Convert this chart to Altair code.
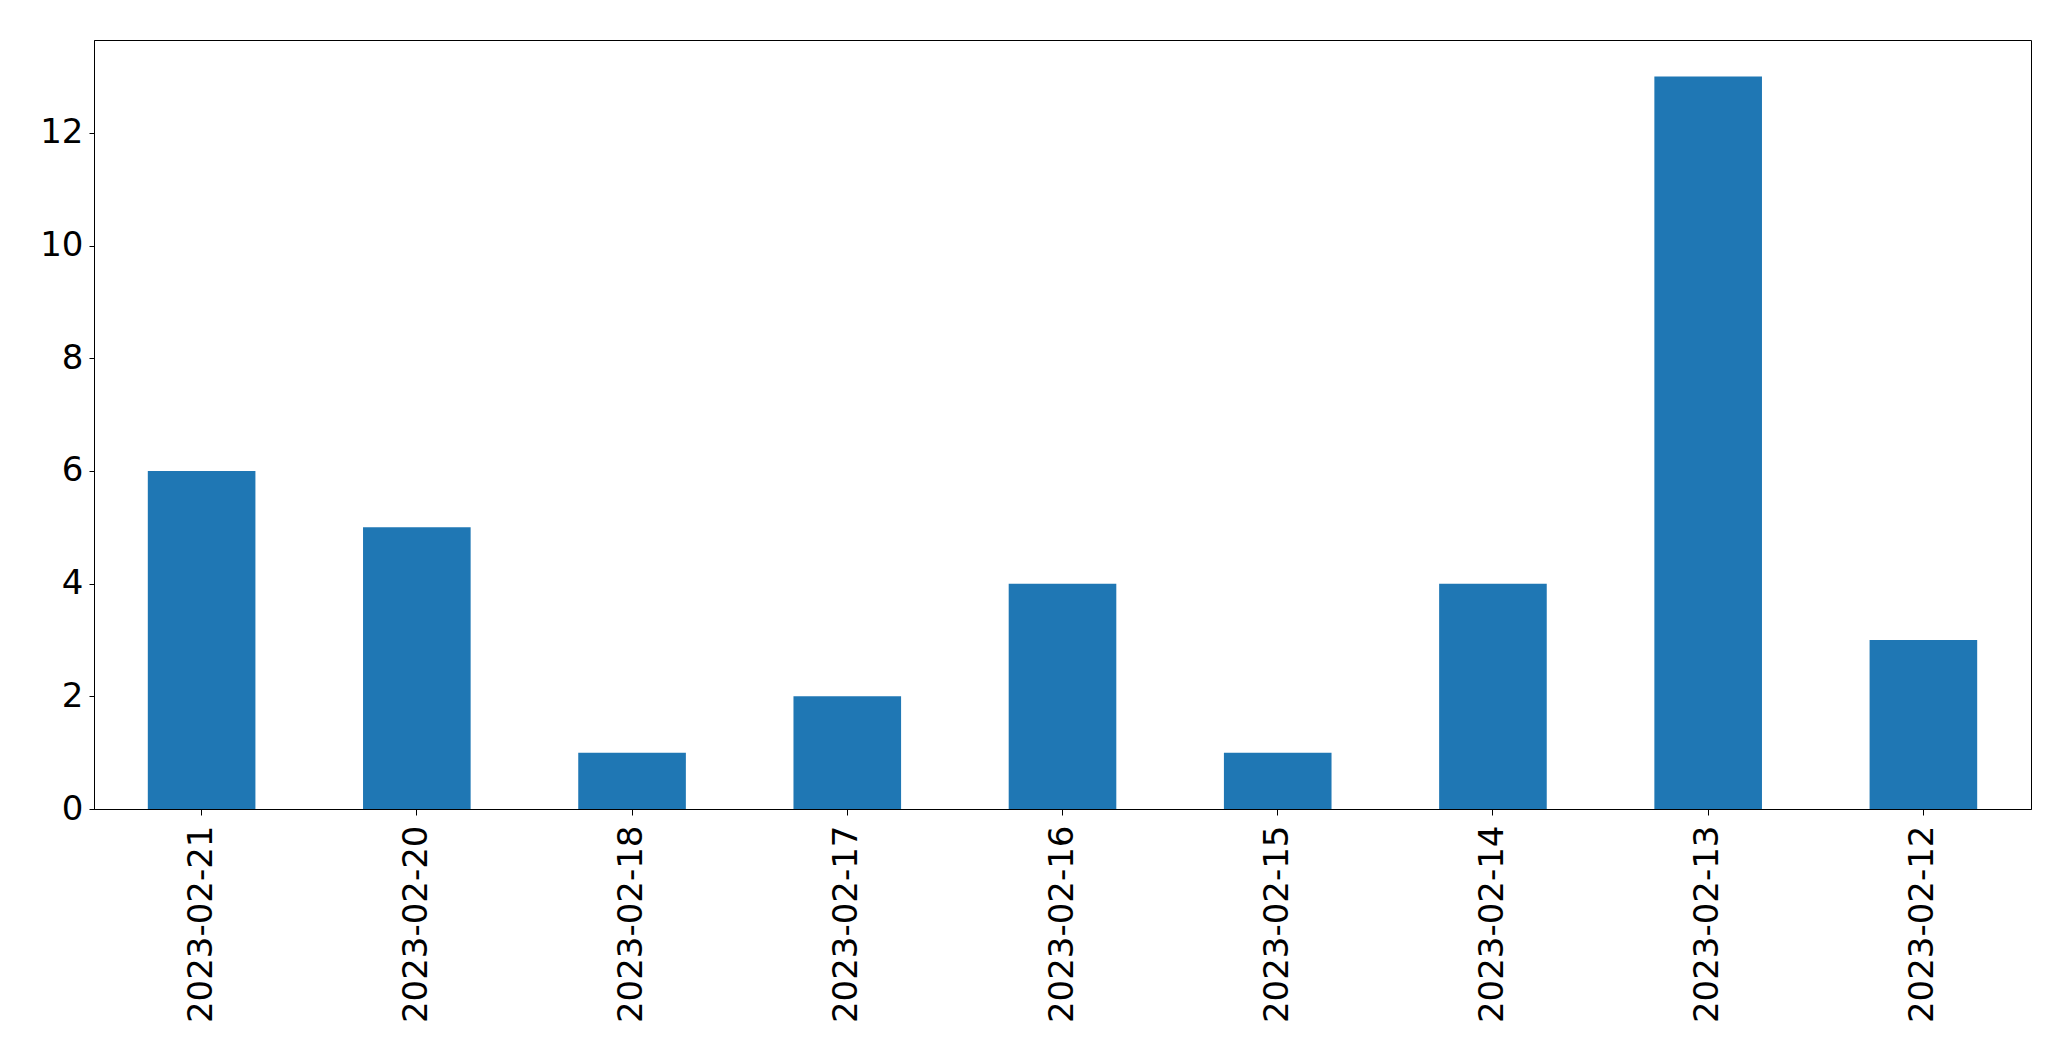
import altair as alt
import pandas as pd

dates = ["2023-02-21", "2023-02-20", "2023-02-18", "2023-02-17", "2023-02-16",
         "2023-02-15", "2023-02-14", "2023-02-13", "2023-02-12"]
counts = [6, 5, 1, 2, 4, 1, 4, 13, 3]
y_ticks = [0, 2, 4, 6, 8, 10, 12]

df = pd.DataFrame({"date": dates, "count": counts})

chart = alt.Chart(df).mark_bar(color="#1f77b4").encode(
    x=alt.X("date:N", sort=dates, title=None,
            scale=alt.Scale(paddingInner=0.5, paddingOuter=0.25),
            axis=alt.Axis(labelAngle=-90, labelAlign="right", labelBaseline="middle",
                          labelFont="DejaVu Sans", labelFontSize=34, labelColor="black",
                          labelLimit=0, labelOverlap=False,
                          tickColor="black", tickSize=6, tickWidth=1, labelPadding=10,
                          domainColor="black", domainWidth=1)),
    y=alt.Y("count:Q", title=None,
            scale=alt.Scale(domain=[0, 13.65], nice=False, zero=True),
            axis=alt.Axis(values=y_ticks, grid=False, labelFont="DejaVu Sans",
                          labelFontSize=34, labelColor="black", tickColor="black",
                          tickSize=5, tickWidth=1, labelPadding=6,
                          domainColor="black", domainWidth=1)),
).properties(
    width=1937, height=769,
    autosize=alt.AutoSizeParams(type="none"),
    padding={"left": 86, "top": 32, "right": 15, "bottom": 225},
).configure(
    background="white"
).configure_view(
    stroke="black", strokeWidth=1
)

chart.save("out.html", embed_options={"renderer": "svg", "actions": False})
